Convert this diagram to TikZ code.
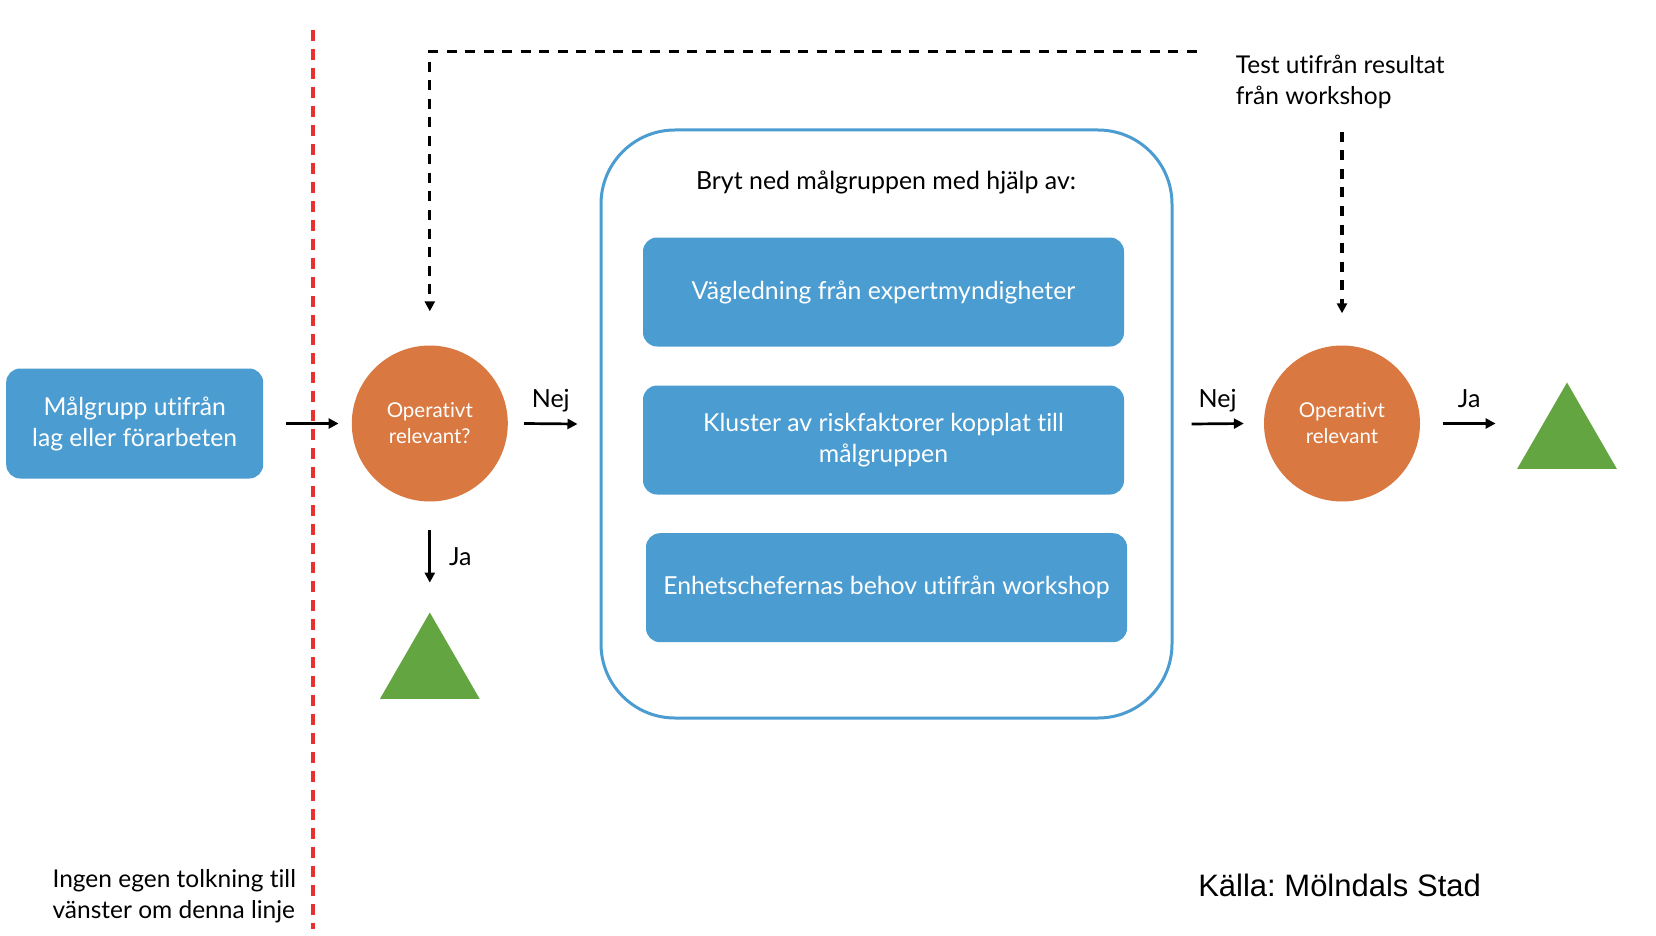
\documentclass[tikz,border=0pt]{standalone}
\usepackage{fontspec}
\setmainfont{Lato}[Ligatures=NoCommon]
\newfontfamily\kallafont{Liberation Sans}
\usetikzlibrary{shapes.geometric,arrows.meta,calc}
\definecolor{boxblue}{RGB}{74,156,209}
\definecolor{circorange}{RGB}{217,120,65}
\definecolor{trigreen}{RGB}{99,165,65}
\definecolor{linered}{RGB}{232,49,47}
\frenchspacing

\begin{document}
\begin{tikzpicture}[x=1pt,y=-1pt]
\tikzstyle{every node}+=[inner sep=0pt]
\tikzstyle{bluebox}=[rectangle, rounded corners=14pt, fill=boxblue, text=white, minimum width=481pt, minimum height=109pt, align=center, font=\fontsize{24.8}{31}\selectfont]
\tikzstyle{question}=[circle, fill=circorange, text=white, minimum size=156pt, align=center, font=\fontsize{20.5}{26}\selectfont]
\tikzstyle{goal}=[regular polygon, regular polygon sides=3, fill=trigreen, minimum size=115pt]
\tikzstyle{arrow}=[line width=2.7pt, -{Triangle[length=10pt,width=10pt]}]
\tikzstyle{feedback}=[line width=3.2pt, dash pattern=on 10pt off 8.5pt, -{Triangle[length=10pt,width=10pt]}]
\tikzstyle{answer}=[font=\fontsize{25}{30}\selectfont, anchor=base, yshift=16pt]
\tikzstyle{plain}=[font=\fontsize{24.5}{30.6}\selectfont, align=left]
\useasboundingbox (0,0) rectangle (1656,936);
\coordinate (redtop) at (312.6,29.6);
\coordinate (redbottom) at (312.6,929);
\draw [linered, line width=4pt, dash pattern=on 11pt off 8pt] (redtop) -- (redbottom);
\node [bluebox, minimum width=257pt, minimum height=110pt, font=\fontsize{24.7}{31}\selectfont] (malgrupp) at (134.7,423.5) {Målgrupp utifrån\\lag eller förarbeten};
\node [question] (op1) at (429.8,423.5) {Operativt\\relevant?};
\node [goal] (tri1) at (429.8,670) {};
\node [draw=boxblue, line width=3pt, rounded corners=74pt, minimum width=571pt, minimum height=588pt] (breakdown) at (886.5,424) {};
\node [font=\fontsize{24.9}{30}\selectfont] (title) at (886,182.5) {Bryt ned målgruppen med hjälp av:};
\node [bluebox] (boxa) at (883.5,292) {Vägledning från expertmyndigheter};
\node [bluebox] (boxb) at (883.5,440) {Kluster av riskfaktorer kopplat till\\målgruppen};
\node [bluebox] (boxc) at (886.5,587.7) {Enhetschefernas behov utifrån workshop};
\node [question] (op2) at (1342,423.5) {Operativt\\relevant};
\node [goal] (tri2) at (1567,440) {};
\node [plain, anchor=west] (test) at (1235.6,82) {Test utifrån resultat\\från workshop};
\node [plain] (note) at (174.3,896) {Ingen egen tolkning till\\vänster om denna linje};
\node [font=\kallafont\fontsize{31}{34}\selectfont] (kalla) at (1339.6,885) {Källa: Mölndals Stad};
\coordinate (fbstart) at (1196.5,51.7);
\coordinate (teststart) at (1342,132);
\draw [arrow] ([xshift=23pt]malgrupp.east) -- ([xshift=-13pt]op1.west);
\draw [arrow] ([xshift=16pt]op1.east) -- node [answer] {Nej} ([xshift=-22pt]breakdown.west);
\draw [arrow] ([yshift=-28.5pt]op1.south) -- node [answer, anchor=west, yshift=-16pt, xshift=18pt] {Ja} ([yshift=29.5pt]tri1.north);
\draw [feedback] (fbstart) -| ([yshift=34pt]op1.north);
\draw [arrow] ([xshift=18pt]breakdown.east) -- node [answer] {Nej} ([xshift=-20pt]op2.west);
\draw [feedback] (teststart) -- ([yshift=32pt]op2.north);
\draw [arrow] ([xshift=22.6pt]op2.east) -- node [answer] {Ja} ($(tri2.west |- op2.east)+(-38,0)$);
\end{tikzpicture}
\end{document}
